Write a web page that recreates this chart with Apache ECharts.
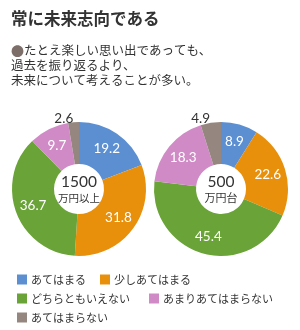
<!DOCTYPE html>
<html><head><meta charset="utf-8">
<script src="https://cdn.jsdelivr.net/npm/echarts@6/dist/echarts.min.js"></script>
<style>html,body{margin:0;padding:0;background:#fff}#c{width:300px;height:330px}</style>
</head><body><div id="c"></div>
<script>
const categories = ['あてはまる','少しあてはまる','どちらともいえない','あまりあてはまらない','あてはまらない'];
const colors = ['#5b8fd2','#e8900c','#6aa337','#d08bc6','#958680'];
const valuesHigh = [19.2, 31.8, 36.7, 9.7, 2.6];
const valuesLow = [8.9, 22.6, 45.4, 18.3, 4.9];
const centerHigh = ['1500','万円以上'];
const centerLow = ['500','万円台'];
const titleText = '常に未来志向である';
const subLines = ['たとえ楽しい思い出であっても、','過去を振り返るより、','未来について考えることが多い。'];

const jp = '"Noto Sans CJK JP", sans-serif';
const num = 'Lato, "Noto Sans", sans-serif';

function mkData(vals){
  return vals.map((v,i)=>{
    const d = {name: categories[i], value: v, itemStyle:{color: colors[i]}};
    if (v < 6) {
      d.label = {position:'outside', color:'#333', distanceToLabelLine:0};
      d.labelLine = {show:false, length:4, length2:0};
    }
    return d;
  });
}
function mkSeries(vals, cx){
  return {
    type:'pie', radius:[25,67], center:[cx,189], startAngle:90, clockwise:true,
    silent:true, avoidLabelOverlap:false,
    label:{show:true, position:'inside', color:'#fff', fontSize:13.5, fontFamily:num,
      formatter:p=>p.value.toFixed(1)},
    labelLine:{show:false},
    data: mkData(vals)
  };
}
const legendPos = [[12,269],[95,269],[12,288],[144,288],[12,307]];
const legends = categories.map((c,i)=>({
  data:[c], left:legendPos[i][0], top:legendPos[i][1], icon:'rect', itemWidth:10, itemHeight:10,
  itemGap:0, textStyle:{fontSize:11, color:'#333', fontFamily:jp, padding:[0,0,0,-1]}, selectedMode:false
}));
const chart = echarts.init(document.getElementById('c'), null, {renderer:'canvas'});
chart.setOption({
  animation:false,
  legend: legends,
  series:[mkSeries(valuesHigh,79), mkSeries(valuesLow,221)],
  graphic:[
    {type:'text', left:11, top:10, style:{text:titleText, font:'bold 16.5px '+jp, fill:'#333'}},
    {type:'text', left:11, top:45, style:{text:'●', font:'13px '+jp, fill:'#7d6e69'}},
    {type:'text', left:24, top:44, style:{text:subLines[0], font:'12.5px '+jp, fill:'#333'}},
    {type:'text', left:11, top:59, style:{text:subLines[1], font:'12.5px '+jp, fill:'#333'}},
    {type:'text', left:11, top:74, style:{text:subLines[2], font:'12.5px '+jp, fill:'#333'}},
    {type:'text', x:79, y:182, style:{text:centerHigh[0], font:'15.5px '+num, fill:'#333', align:'center', verticalAlign:'middle'}},
    {type:'text', x:79, y:198, style:{text:centerHigh[1], font:'10.5px '+jp, fill:'#333', align:'center', verticalAlign:'middle'}},
    {type:'text', x:221, y:182, style:{text:centerLow[0], font:'15.5px '+num, fill:'#333', align:'center', verticalAlign:'middle'}},
    {type:'text', x:221, y:198, style:{text:centerLow[1], font:'11px '+jp, fill:'#333', align:'center', verticalAlign:'middle'}}
  ]
});
</script></body></html>
